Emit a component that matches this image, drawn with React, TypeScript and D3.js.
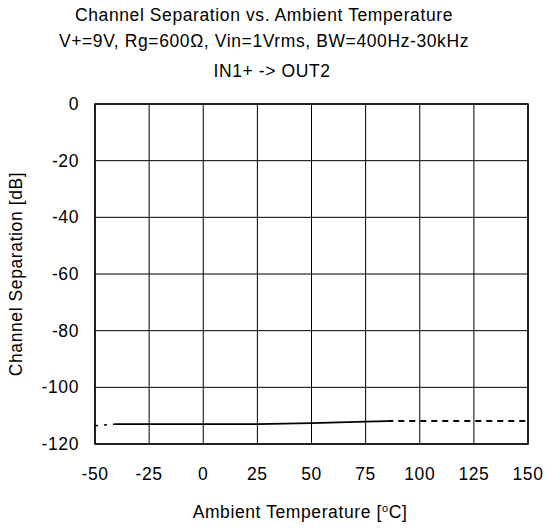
import * as d3 from "d3";

// data
const xTicks = [-50, -25, 0, 25, 50, 75, 100, 125, 150];
const yTicks = [0, -20, -40, -60, -80, -100, -120];

const measuredTemp = [-41, -25, 0, 25, 50, 75, 85];
const measuredSep = [-113.0, -113.0, -113.0, -113.0, -112.6, -112.1, -111.9];

const lowTemp = [-50, -41];
const lowSep = [-113.6, -113.0];

const highTemp = [85, 150];
const highSep = [-111.9, -111.9];

const W = 545;
const H = 529;
const margin = { left: 95, right: 17, top: 104, bottom: 85 };
const FS = 17.5;
const LS = 0.6;

export default function App() {
  const x = d3.scaleLinear().domain([-50, 150]).range([margin.left, W - margin.right]);
  const y = d3.scaleLinear().domain([-120, 0]).range([H - margin.bottom, margin.top]);

  const line = d3
    .line<[number, number]>()
    .x((d) => x(d[0]))
    .y((d) => y(d[1]));

  const solid = measuredTemp.map((t, i) => [t, measuredSep[i]] as [number, number]);
  const low = lowTemp.map((t, i) => [t, lowSep[i]] as [number, number]);
  const high = highTemp.map((t, i) => [t, highSep[i]] as [number, number]);

  const font = "'Liberation Sans', Arial, sans-serif";
  const midY = (margin.top + H - margin.bottom) / 2;

  return (
    <svg
      width={W}
      height={H}
      style={{ position: "absolute", left: 0, top: 0, background: "#fff" }}
      fontFamily={font}
      fontSize={FS}
      letterSpacing={LS}
    >
      <text x={264} y={20.5} textAnchor="middle">
        Channel Separation vs. Ambient Temperature
      </text>
      <text x={264} y={46.5} textAnchor="middle">
        V+=9V, Rg=600Ω, Vin=1Vrms, BW=400Hz-30kHz
      </text>
      <text x={272} y={77} textAnchor="middle">
        IN1+ -&gt; OUT2
      </text>

      {/* grid */}
      {xTicks.map((t) => (
        <line key={"gx" + t} x1={x(t)} x2={x(t)} y1={y(0)} y2={y(-120)} stroke="#000" strokeWidth={1} />
      ))}
      {yTicks.map((t) => (
        <line key={"gy" + t} x1={x(-50)} x2={x(150)} y1={y(t)} y2={y(t)} stroke="#000" strokeWidth={1} />
      ))}
      <rect
        x={x(-50)}
        y={y(0)}
        width={x(150) - x(-50)}
        height={y(-120) - y(0)}
        fill="none"
        stroke="#000"
        strokeWidth={1.5}
      />

      {/* tick labels */}
      {yTicks.map((t) => (
        <text key={"ly" + t} x={x(-50) - 16} y={y(t) + 6} textAnchor="end">
          {t}
        </text>
      ))}
      {xTicks.map((t) => (
        <text key={"lx" + t} x={x(t)} y={y(-120) + 36} textAnchor="middle">
          {t}
        </text>
      ))}

      {/* data */}
      <path d={line(low) ?? ""} fill="none" stroke="#000" strokeWidth={1.5} strokeDasharray="3,6" />
      <path d={line(solid) ?? ""} fill="none" stroke="#000" strokeWidth={1.8} />
      <path d={line(high) ?? ""} fill="none" stroke="#000" strokeWidth={2} strokeDasharray="6,5" />

      {/* axis titles */}
      <text x={300} y={518} textAnchor="middle">
        Ambient Temperature [<tspan dy={-6} fontSize={11}>o</tspan>
        <tspan dy={6}>C]</tspan>
      </text>
      <text transform={`translate(22,${midY}) rotate(-90)`} textAnchor="middle">
        Channel Separation [dB]
      </text>
    </svg>
  );
}
